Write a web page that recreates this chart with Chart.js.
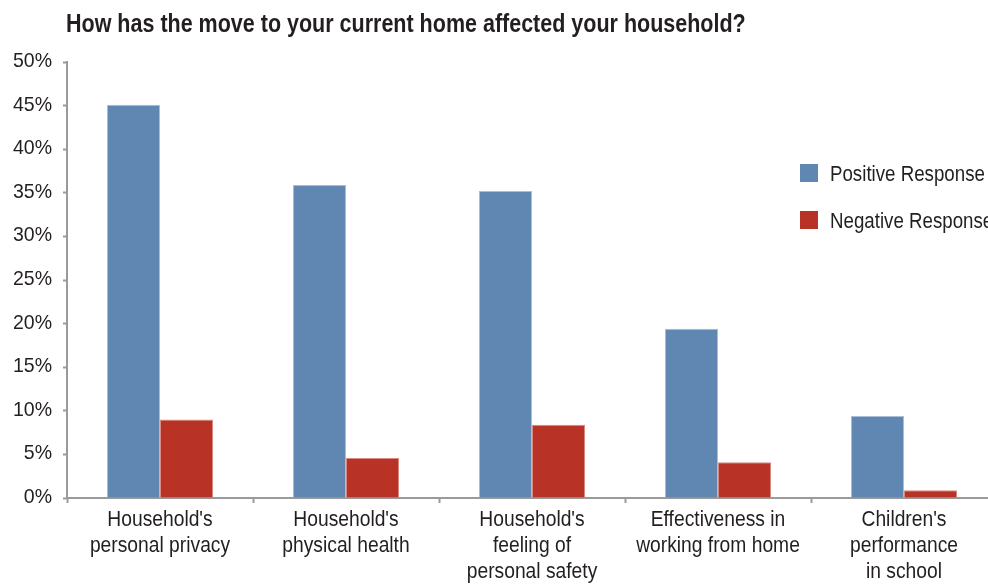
<!DOCTYPE html>
<html>
<head>
<meta charset="utf-8">
<script src="https://cdn.jsdelivr.net/npm/chart.js@4/dist/chart.umd.min.js"></script>
<style>
  html, body { margin: 0; padding: 0; background: #fff; overflow: hidden; width: 988px; height: 584px; }
  canvas { display: block; }
</style>
</head>
<body>
<canvas id="c" width="1000" height="584"></canvas>
<script>
const FONT = "'Liberation Sans', Arial, sans-serif";

const titleText = "How has the move to your current home affected your household?";
const categories = [
  ["Household's", "personal privacy"],
  ["Household's", "physical health"],
  ["Household's", "feeling of", "personal safety"],
  ["Effectiveness in", "working from home"],
  ["Children's", "performance", "in school"]
];
const seriesNames = ["Positive Response", "Negative Response"];
const positiveValues = [45.1, 35.9, 35.2, 19.4, 9.4];
const negativeValues = [9.0, 4.6, 8.4, 4.1, 0.9];
const yTicks = [0, 5, 10, 15, 20, 25, 30, 35, 40, 45, 50];

const BLUE = '#6086b2';
const RED = '#b83226';
const AXIS = '#9a9a9a';
const INK = '#231f20';

// Narrow text: draw with a horizontal squeeze to get a condensed face
function narrowText(ctx, text, x, y, size, squeeze, align, bold) {
  ctx.save();
  ctx.font = `${bold ? 'bold ' : ''}${size}px ${FONT}`;
  ctx.textBaseline = 'alphabetic';
  ctx.textAlign = align;
  ctx.fillStyle = INK;
  ctx.translate(x, y);
  ctx.scale(squeeze, 1);
  ctx.fillText(text, 0, 0);
  ctx.restore();
}

const textLayer = {
  id: 'textLayer',
  afterDraw(chart) {
    const ctx = chart.ctx;
    const xs = chart.scales.x, ys = chart.scales.y;

    // title
    narrowText(ctx, titleText, 66, 32, 25, 0.86, 'left', true);

    // value axis labels
    yTicks.forEach(v => {
      narrowText(ctx, v + '%', 52, ys.getPixelForValue(v) + 5, 21, 0.93, 'right', false);
    });

    // category labels
    chart.data.labels.forEach((lines, i) => {
      const cx = xs.getPixelForValue(i);
      lines.forEach((line, j) => {
        narrowText(ctx, line, cx, 526 + j * 26, 22, 0.875, 'center', false);
      });
    });

    // legend
    chart.data.datasets.forEach((ds, i) => {
      const top = 164 + i * 47;
      ctx.fillStyle = ds.backgroundColor;
      ctx.fillRect(800, top, 18, 18);
      narrowText(ctx, ds.label, 830, top + 17, 22, 0.85, 'left', false);
    });
  }
};

new Chart(document.getElementById('c'), {
  type: 'bar',
  data: {
    labels: categories,
    datasets: [
      { label: seriesNames[0], data: positiveValues, backgroundColor: BLUE, borderColor: '#a9bfd8', borderWidth: 1 },
      { label: seriesNames[1], data: negativeValues, backgroundColor: RED, borderColor: '#d98a82', borderWidth: 1 }
    ]
  },
  options: {
    responsive: false,
    animation: false,
    events: [],
    layout: { padding: { top: 62, right: 3, left: 0, bottom: 0 } },
    datasets: { bar: { categoryPercentage: 0.57, barPercentage: 1.0 } },
    plugins: { legend: { display: false }, title: { display: false }, tooltip: { enabled: false } },
    scales: {
      x: {
        offset: true,
        grid: { display: true, drawOnChartArea: false, offset: true, color: AXIS, tickLength: 5, tickWidth: 2 },
        border: { display: true, color: AXIS, width: 2 },
        ticks: { display: false },
        afterFit(s) { s.height = 86; }
      },
      y: {
        min: 0, max: 50,
        afterBuildTicks(s) { s.ticks = yTicks.map(v => ({ value: v })); },
        grid: { display: true, drawOnChartArea: false, color: AXIS, tickLength: 4, tickWidth: 2 },
        border: { display: true, color: AXIS, width: 2 },
        ticks: { display: false },
        afterFit(s) { s.width = 67; }
      }
    }
  },
  plugins: [textLayer]
});
</script>
</body>
</html>
